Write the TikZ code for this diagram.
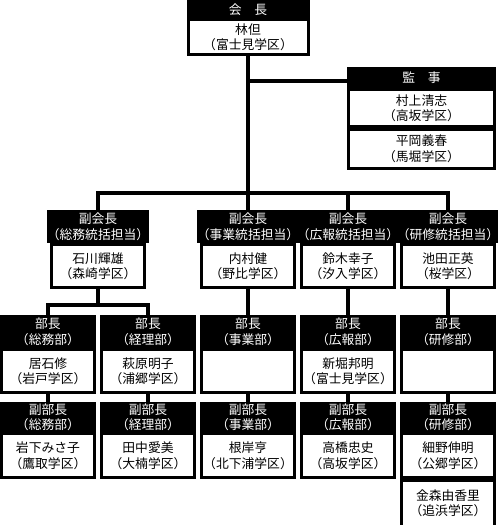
\documentclass[tikz,border=0pt]{standalone}
\usepackage{fontspec}
\setmainfont{Noto Sans CJK JP}
\usetikzlibrary{positioning}
\tikzset{
    every node/.style={font=\fontsize{12.8}{15.5}\selectfont,inner sep=0pt,align=center},
    headbox/.style={fill=black,text=white,minimum width=96pt,minimum height=#1},
    bodybox/.style={fill=white,draw=black,line width=3pt,minimum width=93pt,minimum height=#1},
    link/.style={line width=4pt}
}

\begin{document}
\begin{tikzpicture}[x=1pt,y=-1pt]
\useasboundingbox (0,0) rectangle (498,525);
% top: president and auditors
\node[headbox=18pt,minimum width=123pt,anchor=north] (pres-h) at (248,0) {会　長};
\node[bodybox=34.5pt,minimum width=120pt,below=0pt of pres-h] (pres-b) {林但\\（富士見学区）};
\node[headbox=21pt,minimum width=149pt,anchor=north] (aud-h) at (421.5,67) {監　事};
\node[bodybox=36.5pt,minimum width=146pt,below=0pt of aud-h] (aud-b1) {村上清志\\（高坂学区）};
\node[bodybox=39pt,minimum width=146pt,below=0pt of aud-b1] (aud-b2) {平岡義春\\（馬堀学区）};
% vice presidents
\foreach \n/\cx/\duty/\who in {v1/98/総務/{石川輝雄\\（森崎学区）},
    v2/248/事業/{内村健\\（野比学区）},
    v3/348/広報/{鈴木幸子\\（汐入学区）},
    v4/448/研修/{池田正英\\（桜学区）}}{
    \node[headbox=33pt,anchor=north] (\n-h) at (\cx,210) {副会長\\（\duty 統括担当）};
    \node[bodybox=42.5pt,below=0pt of \n-h] (\n-b) {\who};
}
% department heads
\foreach \n/\cx/\dep/\who in {d1/48/総務部/{居石修\\（岩戸学区）},
    d2/148/経理部/{萩原明子\\（浦郷学区）},
    d3/248/事業部/{},
    d4/348/広報部/{新堀邦明\\（富士見学区）},
    d5/448/研修部/{}}{
    \node[headbox=33pt,anchor=north] (\n-h) at (\cx,315) {部長\\（\dep）};
    \node[bodybox=42.5pt,below=0pt of \n-h] (\n-b) {\who};
}
% deputy heads
\foreach \n/\cx/\dep/\who in {e1/48/総務部/{岩下みさ子\\（鷹取学区）},
    e2/148/経理部/{田中愛美\\（大楠学区）},
    e3/248/事業部/{根岸亨\\（北下浦学区）},
    e4/348/広報部/{高橋忠史\\（高坂学区）},
    e5/448/研修部/{細野伸明\\（公郷学区）}}{
    \node[headbox=30pt,anchor=north] (\n-h) at (\cx,402) {副部長\\（\dep）};
    \node[bodybox=43.5pt,below=0pt of \n-h] (\n-b) {\who};
}
\node[bodybox=46pt,below=0pt of e5-b] (e5-b2) {金森由香里\\（追浜学区）};
% connectors
\coordinate (ja) at (248,81);
\coordinate (jb) at (248,193);
\coordinate (jc) at (98,305);
\draw[link] (pres-b.south) -- (v2-h.north);
\draw[link] (ja) -- (ja -| aud-h.west);
\draw[link] (v1-h.north) |- (jb) -| (v4-h.north);
\draw[link] (jb -| v3-h.north) -- (v3-h.north);
\draw[link] (v1-b.south) -- (jc);
\draw[link] (d1-h.north) |- (jc) -| (d2-h.north);
\foreach \i/\j in {2/3,3/4,4/5}
    \draw[link] (v\i-b.south) -- (d\j-h.north);
\foreach \i in {1,...,5}
    \draw[link] (d\i-b.south) -- (e\i-h.north);
\end{tikzpicture}
\end{document}
